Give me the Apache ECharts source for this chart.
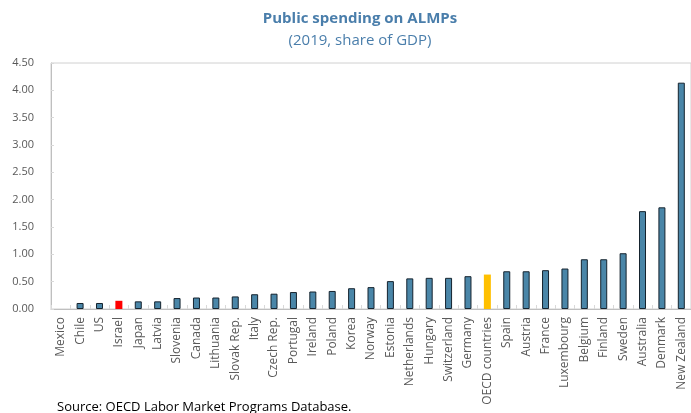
<!DOCTYPE html>
<html><head><meta charset="utf-8">
<script src="https://cdn.jsdelivr.net/npm/echarts@6/dist/echarts.min.js"></script>
<style>html,body{margin:0;padding:0;background:#fff;}#c{width:691px;height:413px;}</style>
</head><body><div id="c"></div>
<script>
const categories = ["Mexico","Chile","US","Israel","Japan","Latvia","Slovenia","Canada","Lithuania","Slovak Rep.","Italy","Czech Rep.","Portugal","Ireland","Poland","Korea","Norway","Estonia","Netherlands","Hungary","Switzerland","Germany","OECD countries","Spain","Austria","France","Luxembourg","Belgium","Finland","Sweden","Australia","Denmark","New Zealand"];
const values = [0,0.11,0.11,0.15,0.14,0.14,0.20,0.21,0.21,0.23,0.27,0.28,0.31,0.32,0.33,0.38,0.40,0.51,0.56,0.57,0.57,0.60,0.63,0.69,0.69,0.71,0.74,0.91,0.91,1.02,1.79,1.86,4.14];
const highlight = {"Israel":"#ff0000","OECD countries":"#ffc000"};
const yTicks = [0,0.5,1,1.5,2,2.5,3,3.5,4,4.5];

const chart = echarts.init(document.getElementById('c'));
chart.setOption({
  animation:false,
  title:[
    {text:'Public spending on ALMPs', left:355, top:6, textAlign:'center',
     textStyle:{fontFamily:'Open Sans',fontSize:15,fontWeight:'bold',color:'#4a7eab'}},
    {text:'(2019, share of GDP)', left:355, top:28, textAlign:'center',
     textStyle:{fontFamily:'Open Sans',fontSize:15,fontWeight:'normal',color:'#4a7eab'}},
    {text:'Source: OECD Labor Market Programs Database.', left:52, top:396,
     textStyle:{fontFamily:'Open Sans',fontSize:13,fontWeight:'normal',color:'#000'}}
  ],
  grid:{left:51, top:63, width:644, height:246, show:true, borderColor:'#d0d0d0', borderWidth:1},
  xAxis:{type:'category', data:categories,
    axisLine:{lineStyle:{color:'#bfbfbf'}},
    axisTick:{show:true, inside:true, length:4, alignWithLabel:false, lineStyle:{color:'#d9d9d9'}},
    axisLabel:{rotate:90, interval:0, fontFamily:'Open Sans', fontSize:12, color:'#595959', margin:8}
  },
  yAxis:{type:'value', min:yTicks[0], max:yTicks[yTicks.length-1], interval:0.5,
    axisLine:{show:true, lineStyle:{color:'#bfbfbf'}},
    axisTick:{show:true, inside:true, length:3, lineStyle:{color:'#d9d9d9'}},
    splitLine:{show:false},
    axisLabel:{fontFamily:'Open Sans', fontSize:11, color:'#595959', formatter:v=>v.toFixed(2), margin:17}
  },
  series:[{type:'bar', barWidth:7,
    data: values.map((v,i)=>{
      const c = highlight[categories[i]];
      if (v === 0) return {value:v, itemStyle:{borderWidth:0}};
      return c ? {value:v, itemStyle:{color:c, borderWidth:0}} : {value:v};
    }),
    itemStyle:{color:'#4a86a8', borderColor:'#15232e', borderWidth:1}
  }]
});
</script></body></html>
